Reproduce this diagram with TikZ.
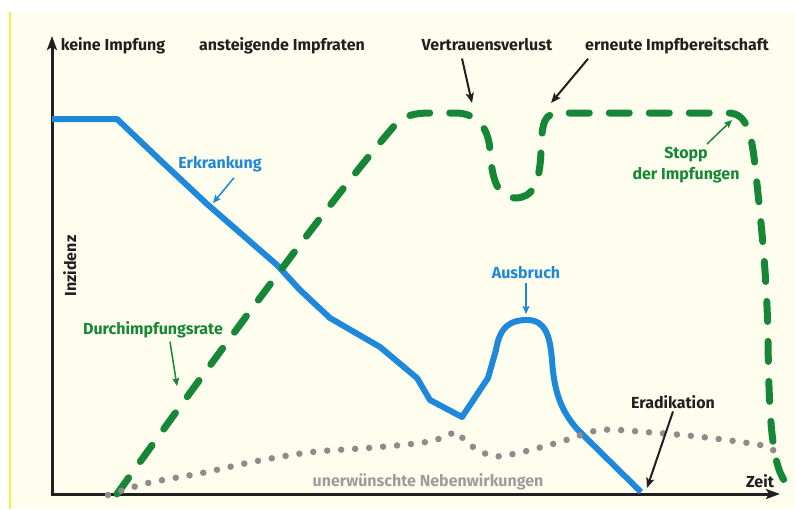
\documentclass[tikz,border=0pt]{standalone}
\usepackage{fontspec}
\setmainfont{Fira Sans}
\usetikzlibrary{arrows.meta}
\definecolor{cream}{RGB}{255,253,238}
\definecolor{rimyellow}{RGB}{255,234,70}
\definecolor{impfgreen}{RGB}{22,135,55}
\definecolor{krankblue}{RGB}{30,136,219}
\definecolor{nebengray}{RGB}{140,140,140}
\definecolor{textdark}{RGB}{35,31,32}

\begin{document}
\begin{tikzpicture}[x=1pt,y=-1pt,
    beschriftung/.style={font=\bfseries\fontsize{16}{21}\selectfont, inner sep=0pt, text=textdark, anchor=base},
    achse/.style={line width=3pt, draw=textdark, {Stealth[length=14pt,width=10pt,inset=3pt]}-{Stealth[length=14pt,width=10pt,inset=3pt]}},
    zeiger/.style={line width=2pt, draw=textdark, -{Stealth[length=10pt,width=8pt,inset=2pt]}},
    farbzeiger/.style={line width=1.5pt, -{Stealth[length=8pt,width=7pt,inset=1.5pt]}},
    erkrankung/.style={line width=6pt, draw=krankblue, line join=round},
    impfrate/.style={line width=7pt, draw=impfgreen, line cap=round, dash pattern=on 20pt off 20pt},
    nebenwirkung/.style={line width=6.5pt, draw=nebengray, line cap=round, dash pattern=on 0pt off 14pt}]
  \useasboundingbox (0,0) rectangle (795,509);
  \fill[cream] (10,12) rectangle (795,509);
  \draw[rimyellow, line width=2pt] (10,12) -- (10,509);

  % Achsen
  \coordinate (o) at (52,494);
  \coordinate (ytop) at (52,36);
  \coordinate (xend) at (780,494);
  \draw[achse] (ytop) -- (o) -- (xend);

  % Erkrankung
  \draw[erkrankung] (52,119) -- (117,119) -- (160,160) -- (207,204) -- (277,265) -- (300,290)
    -- (330,318) -- (380,347) -- (417,378) -- (430,400) -- (462,417) -- (488,378) -- (496,350)
    .. controls (500,325) and (512,320) .. (527,320) .. controls (545,320) and (550,335) .. (552,360)
    .. controls (554,390) and (560,410) .. (578,430) -- (641,492);

  % Durchimpfungsrate
  \draw[impfrate] (117,494) .. controls (200,378) and (330,200) .. (395,125)
    .. controls (405,115) and (415,113) .. (430,113) -- (455,113)
    .. controls (475,113) and (488,125) .. (490,150) .. controls (492,185) and (500,197) .. (515,198)
    .. controls (532,198) and (540,185) .. (541,150) .. controls (542,120) and (545,113) .. (560,113)
    -- (728,113) .. controls (748,113) and (752,135) .. (756,175)
    .. controls (762,230) and (767,280) .. (768,340) .. controls (769,420) and (772,470) .. (788,485);

  % Nebenwirkungen
  \draw[nebenwirkung] plot[smooth, tension=0.5] coordinates {(108,495) (148,483) (202,473) (257,461)
    (312,452) (368,448) (420,443) (442,438) (457,432) (467,443) (492,456) (518,453) (560,442)
    (600,430) (645,432) (702,437) (760,445) (776,452)};

  \node[beschriftung] (kein) at (113,50) {keine Impfung};
  \node[beschriftung] (anstieg) at (282,50) {ansteigende Impfraten};
  \node[beschriftung] (vertrauen) at (487,50) {Vertrauensverlust};
  \node[beschriftung] (erneut) at (677,50) {erneute Impfbereitschaft};
  \node[beschriftung, rotate=90] (inz) at (76,266) {Inzidenz};
  \node[beschriftung] (zeit) at (760,487) {Zeit};
  \node[beschriftung] (erad) at (673,408) {Eradikation};
  \node[beschriftung, text=nebengray!85!white] (neben) at (428,486) {unerwünschte Nebenwirkungen};
  \node[beschriftung, text=krankblue] (erkr) at (220,168) {Erkrankung};
  \node[beschriftung, text=krankblue] (ausbr) at (526,278) {Ausbruch};
  \node[beschriftung, text=impfgreen] (durch) at (153,334) {Durchimpfungsrate};
  \node[beschriftung, text=impfgreen, align=center, anchor=north] (stopp) at (686,147) {Stopp\\der Impfungen};

  \coordinate (vtip) at (472,103);
  \coordinate (etip) at (551,103);
  \coordinate (ertip) at (647,488);
  \coordinate (erktip) at (213,203);
  \coordinate (atip) at (526,314);
  \coordinate (dtip) at (177,386);
  \coordinate (stip) at (732,120);
  \draw[zeiger] ([xshift=-25pt,yshift=-8pt]vertrauen.south) -- (vtip);
  \draw[zeiger] ([xshift=3pt,yshift=-5pt]erneut.south west) -- (etip);
  \draw[zeiger] ([yshift=-3pt]erad.south) -- (ertip);
  \draw[farbzeiger, draw=krankblue] ([xshift=14pt,yshift=-6pt]erkr.south) -- (erktip);
  \draw[farbzeiger, draw=krankblue] ([yshift=-5pt]ausbr.south) -- (atip);
  \draw[farbzeiger, draw=impfgreen] ([xshift=17pt,yshift=-4pt]durch.south) -- (dtip);
  \draw[farbzeiger, draw=impfgreen] ([xshift=21pt,yshift=3pt]stopp.north) -- (stip);
\end{tikzpicture}
\end{document}
